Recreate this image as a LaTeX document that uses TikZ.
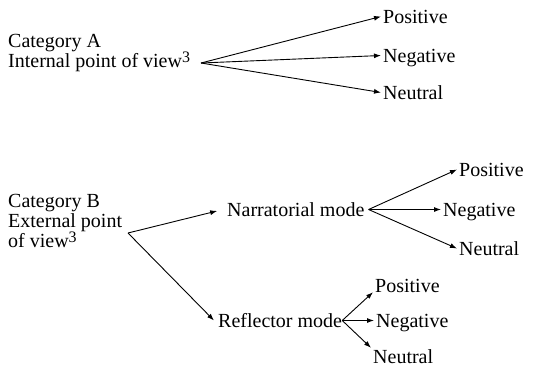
\documentclass[tikz,border=0pt]{standalone}
\usepackage{fontspec}
\setmainfont{Liberation Serif}
\usetikzlibrary{arrows.meta,positioning}

\newcommand{\supnum}[1]{\raisebox{5pt}{\fontsize{16}{16}\selectfont #1}}

\tikzset{
  lbl/.style={anchor=base west,inner sep=0pt,font=\fontsize{20}{20}\selectfont},
  mode/.style={lbl,inner xsep=4pt,text height=13pt,text depth=0pt},
  leaf/.style={lbl,inner xsep=2pt,text height=13pt,text depth=0pt},
  fan/.style={-{Latex[length=7pt,width=5pt]},line width=0.9pt},
}

\begin{document}
\begin{tikzpicture}[x=1pt,y=-1pt]
%
\useasboundingbox (0,0) rectangle (559,368);
%
% base anchor of a multi-line node sits on its last line
\node[lbl,align=left] (catA) at (8,67) {Category A\\Internal point of view\supnum{3}};
\node[lbl,align=left] (catB) at (8,247) {Category B\\External point\\of view\supnum{3}};
%
\coordinate (fanA) at (201,63);
\coordinate (fanB) at (128,233);
%
\node[leaf] (posA) at (381,23) {Positive};
\node[leaf] (negA) at (381,62) {Negative};
\node[leaf] (neuA) at (381,99) {Neutral};
%
\node[mode] (narr) at (223,216) {Narratorial mode};
\node[mode] (refl) at (214,327) {Reflector mode};
%
\node[leaf] (posN) at (457,176) {Positive};
\node[leaf] (negN) at (441,216) {Negative};
\node[leaf] (neuN) at (457,255) {Neutral};
%
\node[leaf] (posR) at (373,292) {Positive};
\node[leaf] (negR) at (374,327) {Negative};
\node[leaf] (neuR) at (371,363) {Neutral};
%
\draw[fan] (fanA) -- (posA.west);
\draw[fan] (fanA) -- (negA.west);
\draw[fan] (fanA) -- (neuA.west);
%
\draw[fan,shorten >=6pt] (fanB) -- (narr.west);
\draw[fan] (fanB) -- (refl.west);
%
\draw[fan] (narr.east) -- (posN.west);
\draw[fan] (narr.east) -- (negN.west);
\draw[fan] (narr.east) -- (neuN.west);
%
\draw[fan] ([xshift=-4pt]refl.east) -- (posR.south west);
\draw[fan] ([xshift=-4pt]refl.east) -- (negR.west);
\draw[fan] ([xshift=-4pt]refl.east) -- ([yshift=2pt]neuR.north west);
%
\end{tikzpicture}
\end{document}
